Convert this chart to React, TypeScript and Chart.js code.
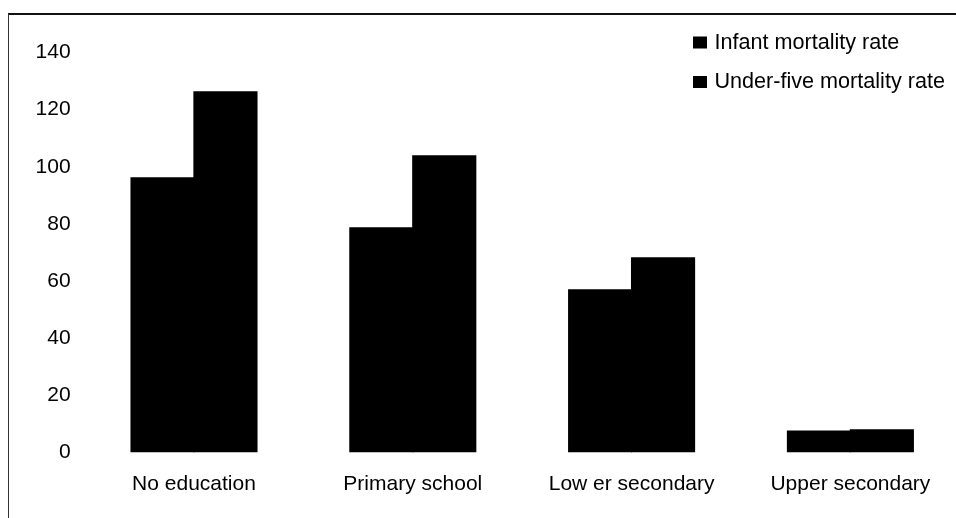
import React, { useEffect, useRef } from "react";
import { Chart, registerables } from "chart.js";

Chart.register(...registerables);

const categories = ["No education", "Primary school", "Low er secondary", "Upper secondary"];
const seriesNames = ["Infant mortality rate", "Under-five mortality rate"];
const infantRate = [96.3, 78.8, 57.1, 7.7];
const underFiveRate = [126.4, 104, 68.3, 8.1];
const yTickMax = 140;
const yTickStep = 20;

const FONT = "'Liberation Sans', Arial, Helvetica, sans-serif";

const legendPlugin = {
  id: "stackedLegend",
  afterDraw(chart: any) {
    const ctx = chart.ctx;
    ctx.save();
    ctx.font = `21.6px ${FONT}`;
    ctx.textAlign = "left";
    ctx.textBaseline = "alphabetic";
    chart.data.datasets.forEach((ds: any, i: number) => {
      const top = 36.5 + i * 39.5;
      ctx.fillStyle = ds.backgroundColor;
      ctx.fillRect(693, top, 14, 12);
      ctx.fillStyle = "#000";
      ctx.fillText(ds.label, 714.5, top + 12);
    });
    ctx.restore();
  },
};

export default function App() {
  const ref = useRef<HTMLCanvasElement | null>(null);

  useEffect(() => {
    if (!ref.current) return;
    const chart = new Chart(ref.current, {
      type: "bar",
      data: {
        labels: categories,
        datasets: [
          { label: seriesNames[0], data: infantRate, backgroundColor: "#000", borderWidth: 0 },
          { label: seriesNames[1], data: underFiveRate, backgroundColor: "#000", borderWidth: 0 },
        ],
      },
      options: {
        responsive: false,
        animation: false,
        layout: { padding: { left: 0, top: 52.5, right: 2.2, bottom: 0 } },
        datasets: { bar: { categoryPercentage: 0.575, barPercentage: 1.02 } },
        plugins: {
          legend: { display: false },
          tooltip: { enabled: false },
        },
        scales: {
          x: {
            grid: { display: false, drawTicks: false },
            border: { display: false },
            ticks: {
              color: "#000",
              font: { family: FONT, size: 21 },
              padding: 19.5,
              maxRotation: 0,
              autoSkip: false,
            },
            afterFit(scale: any) {
              scale.height = 65.5;
            },
          },
          y: {
            min: 0,
            max: yTickMax,
            grid: { display: false, drawTicks: false },
            border: { display: false },
            ticks: {
              stepSize: yTickStep,
              color: "#000",
              font: { family: FONT, size: 21 },
              padding: 14,
            },
            afterFit(scale: any) {
              scale.width = 84.6;
            },
          },
        },
      },
      plugins: [legendPlugin],
    });
    return () => chart.destroy();
  }, []);

  return (
    <div
      style={{
        position: "absolute",
        left: 0,
        top: 0,
        width: 956,
        height: 518,
        overflow: "hidden",
        background: "#fff",
      }}
    >
      <canvas ref={ref} width={962} height={518} style={{ position: "absolute", left: 0, top: 0 }} />
      <div
        style={{
          position: "absolute",
          left: 8,
          top: 12.5,
          width: 960,
          height: 520,
          borderTop: "2px solid #111",
          borderLeft: "1.5px solid #333",
          pointerEvents: "none",
        }}
      />
    </div>
  );
}
